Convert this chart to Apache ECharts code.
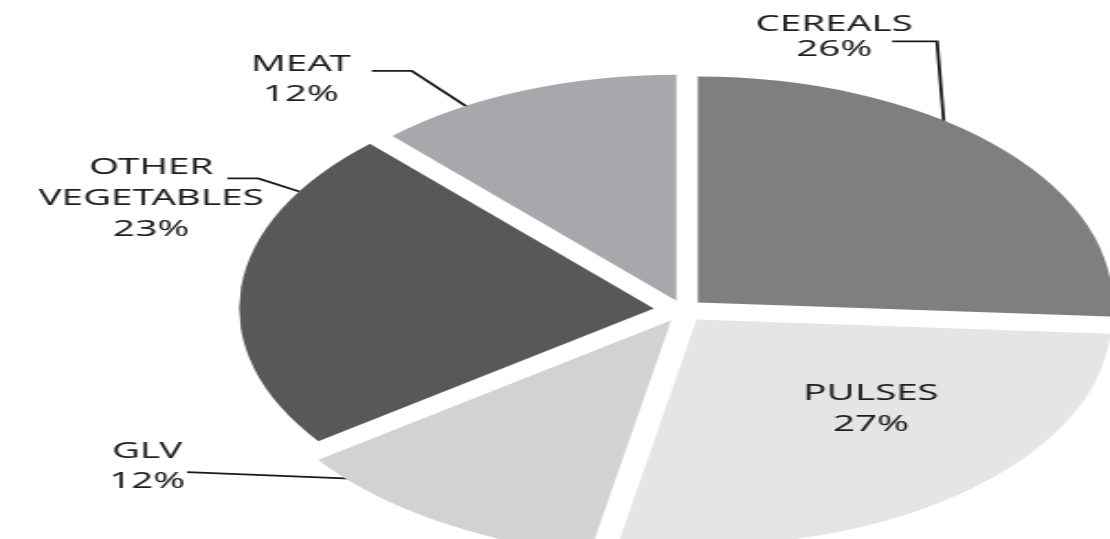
<!DOCTYPE html>
<html>
<head>
<meta charset="utf-8">
<title>Food groups</title>
<script src="https://cdn.jsdelivr.net/npm/echarts@6/dist/echarts.min.js"></script>
<style>
    html, body { margin: 0; padding: 0; background: #fff; overflow: hidden; }
    /* the original pie is stretched sideways, so the chart is drawn narrow and scaled in x */
    #chart { width: 605px; height: 539px; transform: scaleX(1.8347); transform-origin: 0 0; }
</style>
</head>
<body>
<div id="chart"></div>
<script>
// data
const categories = ['CEREALS', 'PULSES', 'GLV', 'OTHER VEGETABLES', 'MEAT'];
const shares = [26, 27, 12, 23, 12];

(function () {
    let chart = echarts.init(document.querySelector('#chart'));

    const colors = ['#7f7f81', '#e5e5e5', '#d1d2d4', '#58585a', '#a7a8ab'];
    const cx = 372.3, cy = 310;
    // the scanned pie is a bit uneven, GLV comes out larger
    const radii = [226, 226, 238, 226, 226];
    // how far each slice is pulled out of the pie
    const explode = [11, 12, 12, 16, 10];
    // leader lines: anchor angle/radius on the slice, bends relative to anchor, label offset from last bend
    const leaders = [
        { angle: 53, r: 223, pts: [[-3.8, -83], [-28.3, -83]], label: [-31.6, -4], lh: 25 },
        { angle: -43, r: 130, pts: [], label: [0, 1], lh: 31 },
        { angle: -137.8, r: 236, pts: [[-44.5, -3.3], [-89.1, -6.6]], label: [-21.8, -5], lh: 30 },
        { angle: 148.8, r: 226, pts: [[-22.3, -13], [-39.2, -13]], label: [-41.5, 21], lh: 31 },
        { angle: 120.3, r: 221, pts: [[-32.7, -39], [-54.5, -39]], label: [-38.7, 9], lh: 30 }
    ];

    const total = shares.reduce((a, b) => a + b, 0);
    let acc = 0;
    const centers = shares.map((v, i) => {
        const mid = 90 - (acc + v / 2) / total * 360; // clockwise from 12 o'clock
        acc += v;
        const a = mid * Math.PI / 180;
        return [cx + explode[i] * Math.cos(a), cy - explode[i] * Math.sin(a)];
    });

    // one series per slice so every slice can have its own offset
    const series = categories.map((name, i) => ({
        type: 'pie',
        center: centers[i],
        radius: radii[i],
        startAngle: 90,
        clockwise: true,
        silent: true,
        animation: false,
        avoidLabelOverlap: false,
        label: {
            position: i === 1 ? 'inside' : 'outside',
            color: '#1e1e1e',
            fontFamily: 'Noto Sans',
            fontSize: 21,
            lineHeight: leaders[i].lh,
            align: 'center',
            formatter: p => p.name.replace(' ', '\n') + '\n' + Math.round(p.percent) + '%'
        },
        labelLine: { show: i !== 1, lineStyle: { color: '#1a1a1a', width: 1.8 } },
        labelLayout: function (p) {
            if (p.dataIndex !== i) return {};
            const g = leaders[i];
            const a = g.angle * Math.PI / 180;
            const ax = centers[i][0] + g.r * Math.cos(a);
            const ay = centers[i][1] - g.r * Math.sin(a);
            const pts = [[ax, ay]].concat(g.pts.map(d => [ax + d[0], ay + d[1]]));
            const last = pts[pts.length - 1];
            const out = {
                x: last[0] + g.label[0],
                y: last[1] + g.label[1],
                align: 'center',
                verticalAlign: 'middle'
            };
            if (pts.length > 1) out.labelLinePoints = pts;
            return out;
        },
        data: shares.map((v, j) => ({
            value: v,
            name: categories[j],
            itemStyle: { color: j === i ? colors[j] : 'transparent' },
            label: { show: j === i },
            labelLine: { show: j === i && i !== 1 }
        }))
    }));

    let option = { series: series };
    chart.setOption(option);
})();
</script>
</body>
</html>
